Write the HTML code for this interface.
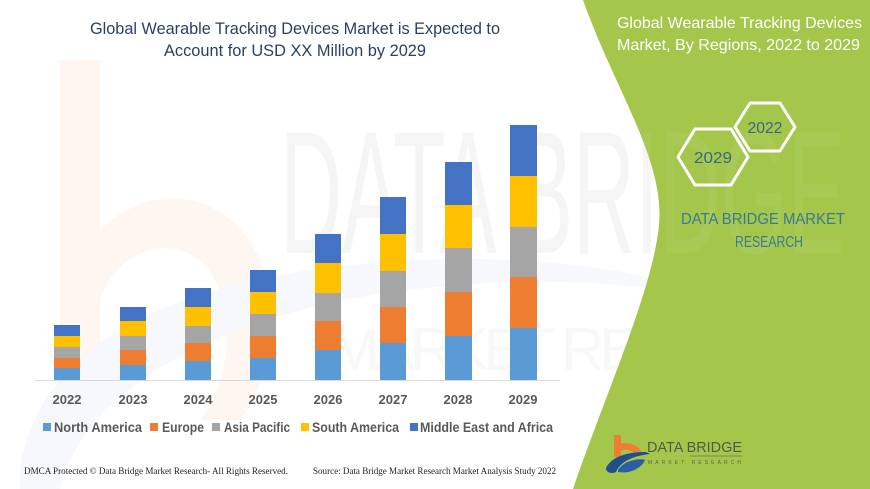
<!DOCTYPE html>
<html>
<head>
<meta charset="utf-8">
<style>
html,body{margin:0;padding:0;background:#fff;}
svg{display:block;}
text{font-family:"Liberation Sans",sans-serif;}
</style>
</head>
<body>
<svg width="870" height="489" viewBox="0 0 870 489" xmlns="http://www.w3.org/2000/svg">
<rect width="870" height="489" fill="#ffffff"/>

<!-- faint watermark -->
<g>
  <path d="M60,60 L100,60 L100,230 C150,180 230,190 260,260 C280,320 270,380 240,420 L200,420 C230,380 235,320 215,280 C190,230 120,240 100,300 L100,380 L60,380 Z" fill="#fef6f1"/>
  <path d="M20,470 C40,330 200,270 420,260 C520,256 600,265 660,280 L660,290 C560,275 420,280 300,310 C160,350 80,410 60,489 L20,489 Z" fill="#f6f8fb"/>
  <text x="280" y="253" font-size="175" fill="#f5f5f5" textLength="565" lengthAdjust="spacingAndGlyphs">DATA BRIDGE</text>
  <text x="330" y="370" font-size="60" fill="#f8f8f8" textLength="530" lengthAdjust="spacing">MARKET RESEARCH</text>
</g>

<!-- green panel -->
<path d="M583,0 C615,90 665,160 659,225 C653,290 603,400 573,489 L870,489 L870,0 Z" fill="#a4c64b"/>
<text x="280" y="253" font-size="175" fill="#ffffff" fill-opacity="0.06" textLength="565" lengthAdjust="spacingAndGlyphs">DATA BRIDGE</text>

<!-- title -->
<text x="295" y="34" font-size="17" fill="#2b3f66" text-anchor="middle" textLength="410" lengthAdjust="spacingAndGlyphs">Global Wearable Tracking Devices Market is Expected to</text>
<text x="295" y="56" font-size="17" fill="#2b3f66" text-anchor="middle" textLength="262" lengthAdjust="spacingAndGlyphs">Account for USD XX Million by 2029</text>

<!-- axis line -->
<line x1="35" y1="380.5" x2="560" y2="380.5" stroke="#d9d9d9" stroke-width="1"/>

<!-- bars -->
<g>
  <rect x="54" y="368" width="26" height="12" fill="#5b9bd5"/>
  <rect x="54" y="358" width="26" height="10" fill="#ed7d31"/>
  <rect x="54" y="347" width="26" height="11" fill="#a5a5a5"/>
  <rect x="54" y="336" width="26" height="11" fill="#ffc000"/>
  <rect x="54" y="325" width="26" height="11" fill="#4472c4"/>

  <rect x="120" y="365" width="26" height="15" fill="#5b9bd5"/>
  <rect x="120" y="350" width="26" height="15" fill="#ed7d31"/>
  <rect x="120" y="336" width="26" height="14" fill="#a5a5a5"/>
  <rect x="120" y="321" width="26" height="15" fill="#ffc000"/>
  <rect x="120" y="307" width="26" height="14" fill="#4472c4"/>

  <rect x="185" y="361" width="26" height="19" fill="#5b9bd5"/>
  <rect x="185" y="343" width="26" height="18" fill="#ed7d31"/>
  <rect x="185" y="326" width="26" height="17" fill="#a5a5a5"/>
  <rect x="185" y="307" width="26" height="19" fill="#ffc000"/>
  <rect x="185" y="288" width="26" height="19" fill="#4472c4"/>

  <rect x="250" y="358" width="26" height="22" fill="#5b9bd5"/>
  <rect x="250" y="336" width="26" height="22" fill="#ed7d31"/>
  <rect x="250" y="314" width="26" height="22" fill="#a5a5a5"/>
  <rect x="250" y="292" width="26" height="22" fill="#ffc000"/>
  <rect x="250" y="270" width="26" height="22" fill="#4472c4"/>

  <rect x="315" y="350" width="26" height="30" fill="#5b9bd5"/>
  <rect x="315" y="321" width="26" height="29" fill="#ed7d31"/>
  <rect x="315" y="293" width="26" height="28" fill="#a5a5a5"/>
  <rect x="315" y="263" width="26" height="30" fill="#ffc000"/>
  <rect x="315" y="234" width="26" height="29" fill="#4472c4"/>

  <rect x="380" y="343" width="26" height="37" fill="#5b9bd5"/>
  <rect x="380" y="307" width="26" height="36" fill="#ed7d31"/>
  <rect x="380" y="271" width="26" height="36" fill="#a5a5a5"/>
  <rect x="380" y="234" width="26" height="37" fill="#ffc000"/>
  <rect x="380" y="197" width="26" height="37" fill="#4472c4"/>

  <rect x="445" y="336" width="27" height="44" fill="#5b9bd5"/>
  <rect x="445" y="292" width="27" height="44" fill="#ed7d31"/>
  <rect x="445" y="248" width="27" height="44" fill="#a5a5a5"/>
  <rect x="445" y="205" width="27" height="43" fill="#ffc000"/>
  <rect x="445" y="162" width="27" height="43" fill="#4472c4"/>

  <rect x="510" y="328" width="27" height="52" fill="#5b9bd5"/>
  <rect x="510" y="277" width="27" height="51" fill="#ed7d31"/>
  <rect x="510" y="227" width="27" height="50" fill="#a5a5a5"/>
  <rect x="510" y="176" width="27" height="51" fill="#ffc000"/>
  <rect x="510" y="125" width="27" height="51" fill="#4472c4"/>
</g>

<!-- x labels -->
<g font-size="13" font-weight="bold" fill="#595959" text-anchor="middle">
  <text x="67" y="404">2022</text>
  <text x="133" y="404">2023</text>
  <text x="198" y="404">2024</text>
  <text x="263" y="404">2025</text>
  <text x="328" y="404">2026</text>
  <text x="393" y="404">2027</text>
  <text x="458" y="404">2028</text>
  <text x="523" y="404">2029</text>
</g>

<!-- legend -->
<g font-size="13.5" font-weight="bold" fill="#595959">
  <rect x="43" y="423" width="8" height="8" fill="#5b9bd5"/>
  <text x="54" y="432" textLength="88" lengthAdjust="spacingAndGlyphs">North America</text>
  <rect x="150" y="423" width="8" height="8" fill="#ed7d31"/>
  <text x="162" y="432" textLength="42" lengthAdjust="spacingAndGlyphs">Europe</text>
  <rect x="212" y="423" width="8" height="8" fill="#a5a5a5"/>
  <text x="224" y="432" textLength="66" lengthAdjust="spacingAndGlyphs">Asia Pacific</text>
  <rect x="301" y="423" width="8" height="8" fill="#ffc000"/>
  <text x="312" y="432" textLength="87" lengthAdjust="spacingAndGlyphs">South America</text>
  <rect x="410" y="423" width="8" height="8" fill="#4472c4"/>
  <text x="420" y="432" textLength="133" lengthAdjust="spacingAndGlyphs">Middle East and Africa</text>
</g>

<!-- footer -->
<g font-size="9" fill="#222">
  <text x="24" y="474" style="font-family:'Liberation Serif',serif" textLength="264" lengthAdjust="spacingAndGlyphs">DMCA Protected © Data Bridge Market Research- All Rights Reserved.</text>
  <text x="313" y="474" style="font-family:'Liberation Serif',serif" textLength="243" lengthAdjust="spacingAndGlyphs">Source: Data Bridge Market Research Market Analysis Study 2022</text>
</g>

<!-- right panel title -->
<g font-size="16" fill="#ffffff">
  <text x="617" y="28" textLength="245" lengthAdjust="spacingAndGlyphs">Global Wearable Tracking Devices</text>
  <text x="617" y="50" textLength="243" lengthAdjust="spacingAndGlyphs">Market, By Regions, 2022 to 2029</text>
</g>

<!-- hexagons -->
<g fill="none" stroke="#ffffff" stroke-width="3" stroke-linejoin="round">
  <polygon points="735,127 750,103 780,103 795,127 780,151 750,151"/>
  <polygon points="678,157 695,129 731,129 748,157 731,185 695,185"/>
</g>
<g font-size="16" fill="#35688a" text-anchor="middle">
  <text x="765" y="133" textLength="35" lengthAdjust="spacingAndGlyphs">2022</text>
  <text x="713" y="163" textLength="38" lengthAdjust="spacingAndGlyphs">2029</text>
</g>
<g font-size="16" fill="#3b7a93" text-anchor="middle">
  <text x="763" y="224" textLength="164" lengthAdjust="spacingAndGlyphs">DATA BRIDGE MARKET</text>
  <text x="769" y="247" textLength="68" lengthAdjust="spacingAndGlyphs">RESEARCH</text>
</g>

<!-- logo -->
<g>
  <rect x="614" y="435" width="7" height="22" fill="#ef7d35"/>
  <path d="M614,446 C625,440 640,444 642,454 L635,455 C633,449 624,448 618,452 Z" fill="#ef7d35"/>
  <path d="M606,468 C612,456 628,452 646,452 L650,454 C632,456 620,462 616,472 C612,474 606,473 606,468 Z" fill="#1f4e8c"/>
  <path d="M618,470 C624,460 640,458 645,460 C642,468 630,474 618,472 Z" fill="#2a5fa5"/>
  <text x="647" y="452" font-size="15" fill="#4f5b45" textLength="95" lengthAdjust="spacingAndGlyphs">DATA BRIDGE</text>
  <line x1="690" y1="456" x2="742" y2="456" stroke="#6a7560" stroke-width="0.8"/>
  <text x="648" y="464" font-size="5" fill="#5a6650" textLength="93" lengthAdjust="spacing">MARKET RESEARCH</text>
</g>
</svg>
</body>
</html>
